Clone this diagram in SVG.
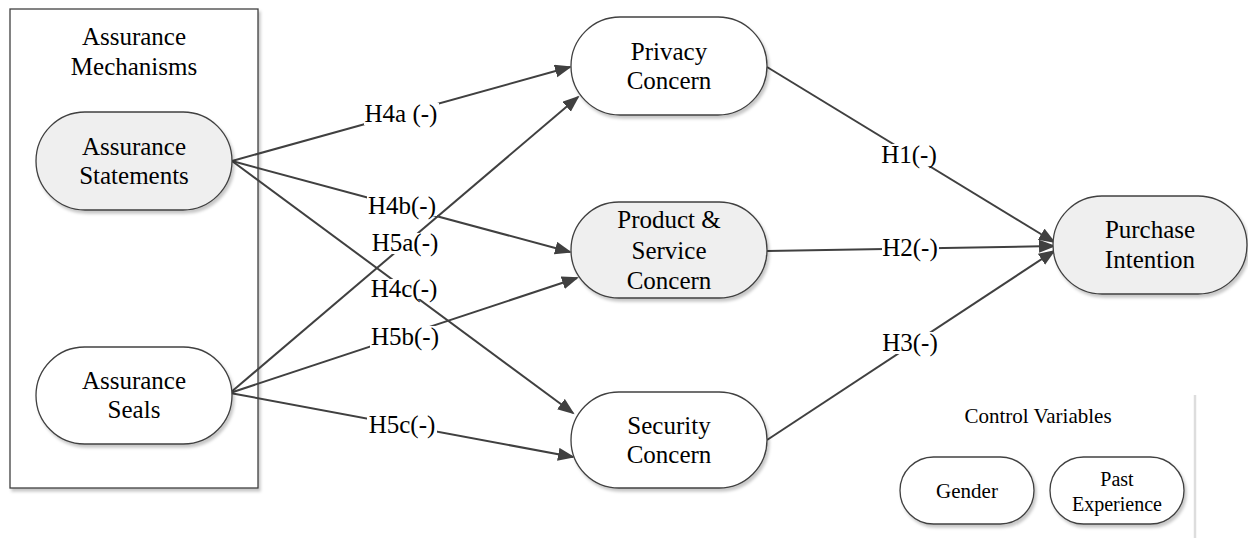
<svg xmlns="http://www.w3.org/2000/svg" width="1248" height="540" viewBox="0 0 1248 540" font-family="'Liberation Serif', Tinos, 'Times New Roman', 'DejaVu Serif', serif">
  <defs>
    <filter id="shadow" x="-10%" y="-10%" width="125%" height="130%">
      <feDropShadow dx="2" dy="3" stdDeviation="1.5" flood-color="#000" flood-opacity="0.22"/>
    </filter>
    <marker id="arrow" markerUnits="userSpaceOnUse" markerWidth="18" markerHeight="14" refX="15" refY="6.5" orient="auto">
      <path d="M0,0 L17,6.5 L0,13 Z" fill="#404040"/>
    </marker>
  </defs>
  <style>
    .pill { stroke: #404040; stroke-width: 1.3; filter: url(#shadow); }
    .white { fill: #ffffff; }
    .grey { fill: #efefef; }
    .t { font-size: 25px; fill: #000; text-anchor: middle; }
    .s { font-size: 21px; fill: #000; text-anchor: middle; }
    .edge { stroke: #404040; stroke-width: 2; fill: none; marker-end: url(#arrow); }
    .lblbg { fill: #ffffff; }
  </style>

  <rect x="0" y="0" width="1248" height="540" fill="#ffffff"/>

  <!-- group box for the two assurance mechanisms -->
  <g id="assurance-mechanisms">
    <rect x="10" y="9" width="248" height="479" fill="#ffffff" stroke="#404040" stroke-width="1.3" filter="url(#shadow)"/>
    <text class="t" x="134" y="45">Assurance</text>
    <text class="t" x="134" y="75">Mechanisms</text>
  </g>

  <!-- connectors -->
  <g id="connectors">
    <line class="edge" x1="232" y1="161" x2="570" y2="67"/>
    <line class="edge" x1="232" y1="161" x2="570" y2="252"/>
    <line class="edge" x1="232" y1="161" x2="573" y2="413"/>
    <line class="edge" x1="230" y1="393" x2="578" y2="97"/>
    <line class="edge" x1="230" y1="393" x2="577" y2="278"/>
    <line class="edge" x1="230" y1="393" x2="573" y2="457"/>
    <line class="edge" x1="767" y1="67" x2="1054" y2="242"/>
    <line class="edge" x1="767" y1="251" x2="1054" y2="246"/>
    <line class="edge" x1="767" y1="440" x2="1054" y2="251"/>

    <!-- hypothesis labels -->
    <rect class="lblbg" x="364" y="103" width="75" height="22"/>
    <text class="t" x="401" y="122">H4a (-)</text>
    <rect class="lblbg" x="367" y="196" width="70" height="20"/>
    <text class="t" x="402" y="214">H4b(-)</text>
    <rect class="lblbg" x="370" y="233" width="70" height="21"/>
    <text class="t" x="405" y="251">H5a(-)</text>
    <rect class="lblbg" x="370" y="279" width="68" height="20"/>
    <text class="t" x="404" y="297">H4c(-)</text>
    <rect class="lblbg" x="370" y="326" width="70" height="22"/>
    <text class="t" x="405" y="345">H5b(-)</text>
    <rect class="lblbg" x="367" y="415" width="70" height="21"/>
    <text class="t" x="402" y="433">H5c(-)</text>
    <rect class="lblbg" x="881" y="144" width="58" height="22"/>
    <text class="t" x="909" y="163">H1(-)</text>
    <rect class="lblbg" x="882" y="237" width="57" height="22"/>
    <text class="t" x="910" y="256">H2(-)</text>
    <rect class="lblbg" x="882" y="332" width="57" height="22"/>
    <text class="t" x="910" y="351">H3(-)</text>
  </g>

  <g id="assurance-statements">
    <rect class="pill grey" x="36" y="112" width="196" height="98" rx="49" ry="49"/>
    <text class="t" x="134" y="155">Assurance</text>
    <text class="t" x="134" y="184">Statements</text>
  </g>

  <g id="assurance-seals">
    <rect class="pill white" x="36" y="347" width="196" height="97" rx="48.5" ry="48.5"/>
    <text class="t" x="134" y="389">Assurance</text>
    <text class="t" x="134" y="418">Seals</text>
  </g>

  <g id="privacy-concern">
    <rect class="pill white" x="571" y="17" width="196" height="98" rx="49" ry="49"/>
    <text class="t" x="669" y="60">Privacy</text>
    <text class="t" x="669" y="89">Concern</text>
  </g>

  <g id="product-service-concern">
    <rect class="pill grey" x="571" y="202" width="196" height="96" rx="48" ry="48"/>
    <text class="t" x="669" y="228">Product &amp;</text>
    <text class="t" x="669" y="259">Service</text>
    <text class="t" x="669" y="289">Concern</text>
  </g>

  <g id="security-concern">
    <rect class="pill white" x="571" y="392" width="196" height="96" rx="48" ry="48"/>
    <text class="t" x="669" y="434">Security</text>
    <text class="t" x="669" y="463">Concern</text>
  </g>

  <g id="purchase-intention">
    <rect class="pill grey" x="1053" y="196" width="194" height="98" rx="49" ry="49"/>
    <text class="t" x="1150" y="238">Purchase</text>
    <text class="t" x="1150" y="268">Intention</text>
  </g>

  <!-- control variables panel -->
  <g id="control-variables">
    <line x1="1195" y1="395" x2="1195" y2="538" stroke="#dddddd" stroke-width="2.5"/>
    <text class="s" x="1038" y="423">Control Variables</text>
  </g>

  <g id="gender">
    <rect class="pill white" x="900" y="457" width="134" height="67" rx="33.5" ry="33.5"/>
    <text class="s" x="967" y="498">Gender</text>
  </g>

  <g id="past-experience">
    <rect class="pill white" x="1050" y="457" width="134" height="67" rx="33.5" ry="33.5"/>
    <text class="s" x="1117" y="486" style="font-size:20px">Past</text>
    <text class="s" x="1117" y="511" style="font-size:20px">Experience</text>
  </g>
</svg>
